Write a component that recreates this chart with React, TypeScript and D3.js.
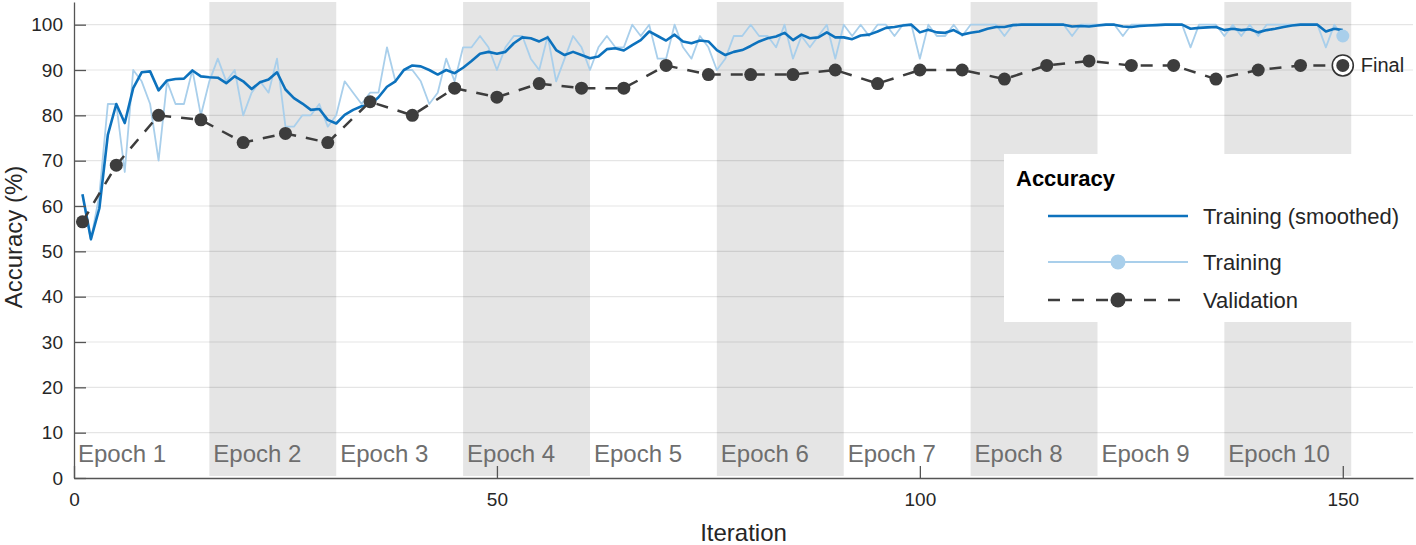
import React, { useEffect, useRef } from 'react';
import * as d3 from 'd3';

// training accuracy per iteration (1..150)
const trainingRaw = [
  62.5, 52.5, 62.5, 82.5, 82.5, 67.5, 90, 87.5, 82.5, 70,
  87.5, 82.5, 82.5, 90, 80, 87.5, 92.5, 87.5, 90, 80,
  85, 87.5, 85, 92.5, 77.5, 77.5, 80, 80, 82.5, 77.5,
  80, 87.5, 85, 82.5, 85, 85, 95, 87.5, 90, 90,
  87.5, 82.5, 85, 92.5, 87.5, 95, 95, 97.5, 95, 90,
  95, 97.5, 97.5, 92.5, 90, 97.5, 87.5, 92.5, 97.5, 95,
  90, 95, 97.5, 95, 95, 100, 97.5, 100, 92.5, 92.5,
  100, 95, 92.5, 97.5, 95, 90, 92.5, 97.5, 97.5, 100,
  97.5, 97.5, 95, 100, 92.5, 97.5, 95, 97.5, 100, 92.5,
  100, 97.5, 100, 97.5, 100, 100, 97.5, 100, 100, 92.5,
  100, 97.5, 97.5, 100, 97.5, 100, 100, 100, 100, 97.5,
  100, 100, 100, 100, 100, 100, 100, 97.5, 100, 100,
  100, 100, 100, 97.5, 100, 100, 100, 100, 100, 100,
  100, 95, 100, 100, 100, 97.5, 100, 97.5, 100, 97.5,
  100, 100, 100, 100, 100, 100, 100, 95, 100, 97.5,
];

const trainingSmoothed = [
  62.6, 52.7, 59.5, 75.7, 82.5, 78.3, 86.0, 89.5, 89.7, 85.5,
  87.7, 88.0, 88.1, 89.9, 88.6, 88.4, 88.3, 87.1, 88.6, 87.5,
  85.8, 87.3, 87.9, 89.5, 85.7, 83.8, 82.6, 81.2, 81.4, 79.0,
  78.2, 80.1, 81.2, 82.0, 82.3, 84.0, 86.3, 87.5, 90.0, 91.0,
  90.8, 90.0, 89.0, 90.0, 89.3, 90.5, 92.0, 93.6, 94.0, 93.6,
  94.0, 95.9, 97.2, 97.0, 96.3, 97.2, 94.4, 93.3, 94.0, 93.3,
  92.6, 93.0, 94.6, 94.8, 94.3, 95.5, 96.6, 98.5, 97.5, 96.5,
  97.8, 96.3, 95.9, 96.5, 96.3, 94.4, 93.3, 94.0, 94.4, 95.3,
  96.3, 97.0, 97.4, 98.2, 96.6, 97.8, 97.0, 97.2, 98.3, 97.2,
  97.2, 96.8, 97.6, 97.8, 98.5, 99.3, 99.5, 99.8, 100, 98.3,
  98.9, 98.3, 98.2, 98.8, 97.8, 98.2, 98.5, 99.1, 99.5, 99.5,
  99.9, 100, 100, 100, 100, 100, 100, 99.6, 99.7, 99.6,
  99.8, 100, 100, 99.6, 99.5, 99.7, 99.8, 99.9, 100, 100,
  100, 99.1, 99.3, 99.4, 99.5, 98.8, 99.1, 98.8, 99.0, 98.3,
  98.8, 99.1, 99.5, 99.8, 100, 100, 100, 98.5, 99.1, 98.8,
];

const validationIters = [1, 5, 10, 15, 20, 25, 30, 35, 40, 45, 50, 55, 60, 65, 70, 75, 80, 85, 90, 95, 100, 105, 110, 115, 120, 125, 130, 135, 140, 145, 150];
const validationAcc = [56.5, 69, 80, 79, 74, 76, 74, 83, 80, 86, 84, 87, 86, 86, 91, 89, 89, 89, 90, 87, 90, 90, 88, 91, 92, 91, 91, 88, 90, 91, 91];

const epochLabels = ['Epoch 1', 'Epoch 2', 'Epoch 3', 'Epoch 4', 'Epoch 5', 'Epoch 6', 'Epoch 7', 'Epoch 8', 'Epoch 9', 'Epoch 10'];
const epochStarts = [0, 16, 31, 46, 61, 76, 91, 106, 121, 136];
const epochEnds = [16, 31, 46, 61, 76, 91, 106, 121, 136, 151];

const xTicks = [0, 50, 100, 150];
const yTicks = [0, 10, 20, 30, 40, 50, 60, 70, 80, 90, 100];
const legendLabels = ['Training (smoothed)', 'Training', 'Validation'];

const FONT = '"Liberation Sans", Arial, Helvetica, sans-serif';
const BLUE = '#0d72bd';
const LIGHT = '#a9cfeb';
const DARK = '#3d3d3d';

const App = () => {
  const svgRef = useRef<SVGSVGElement>(null);

  useEffect(() => {
    const width = 1416;
    const height = 545;
    const margin = { top: 2, right: 3, bottom: 67, left: 74 };

    const svg = d3.select(svgRef.current);
    svg.selectAll('*').remove();
    svg.style('font-family', FONT);

    const x = d3.scaleLinear().domain([0, 158.3]).range([margin.left, width - margin.right]);
    const y = d3.scaleLinear().domain([0, 105]).range([height - margin.bottom, margin.top]);

    // epoch shading (every other epoch)
    svg.append('g')
      .selectAll('rect')
      .data(epochLabels.map((l, i) => i).filter(i => i % 2 === 1))
      .join('rect')
      .attr('x', i => x(epochStarts[i]))
      .attr('y', y(105))
      .attr('width', i => x(epochEnds[i]) - x(epochStarts[i]))
      .attr('height', y(0) - 2 - y(105))
      .attr('fill', '#e5e5e5');

    // horizontal grid
    svg.append('g')
      .selectAll('line')
      .data(yTicks.filter(t => t > 0))
      .join('line')
      .attr('x1', x.range()[0])
      .attr('x2', x.range()[1])
      .attr('y1', d => y(d))
      .attr('y2', d => y(d))
      .attr('stroke', 'rgba(0,0,0,0.1)')
      .attr('stroke-width', 1.2);

    // epoch labels
    svg.append('g')
      .selectAll('text')
      .data(epochLabels)
      .join('text')
      .attr('x', (d, i) => x(epochStarts[i]) + 4)
      .attr('y', y(0) - 16)
      .attr('font-size', 24)
      .attr('fill', '#6e6e6e')
      .text(d => d);

    const line = d3.line<number>()
      .x((d, i) => x(i + 1))
      .y(d => y(d));

    svg.append('path')
      .attr('d', line(trainingRaw))
      .attr('fill', 'none')
      .attr('stroke', LIGHT)
      .attr('stroke-width', 1.8)
      .attr('stroke-linejoin', 'round');

    svg.append('path')
      .attr('d', line(trainingSmoothed))
      .attr('fill', 'none')
      .attr('stroke', BLUE)
      .attr('stroke-width', 2.6)
      .attr('stroke-linejoin', 'round');

    // validation
    const valLine = d3.line<number>()
      .x((d, i) => x(validationIters[i]))
      .y(d => y(d));

    svg.append('path')
      .attr('d', valLine(validationAcc))
      .attr('fill', 'none')
      .attr('stroke', DARK)
      .attr('stroke-width', 2.5)
      .attr('stroke-dasharray', '12,10');

    svg.append('g')
      .selectAll('circle')
      .data(validationAcc)
      .join('circle')
      .attr('cx', (d, i) => x(validationIters[i]))
      .attr('cy', d => y(d))
      .attr('r', 6.5)
      .attr('fill', DARK);

    // final points
    const last = validationAcc.length - 1;
    const fx = x(validationIters[last]);
    const fy = y(validationAcc[last]);
    svg.append('circle')
      .attr('cx', x(trainingRaw.length))
      .attr('cy', y(trainingRaw[trainingRaw.length - 1]))
      .attr('r', 6.5)
      .attr('fill', LIGHT);
    svg.append('circle')
      .attr('cx', fx).attr('cy', fy).attr('r', 10.5)
      .attr('fill', '#fff').attr('stroke', '#333').attr('stroke-width', 1.6);
    svg.append('circle')
      .attr('cx', fx).attr('cy', fy).attr('r', 6.5)
      .attr('fill', DARK);
    svg.append('text')
      .attr('x', fx + 18)
      .attr('y', fy + 7)
      .attr('font-size', 20)
      .attr('fill', '#262626')
      .text('Final');

    // legend
    const lg = svg.append('g');
    lg.append('rect')
      .attr('x', 1004).attr('y', 154).attr('width', 409).attr('height', 168)
      .attr('fill', '#fff');
    lg.append('text')
      .attr('x', 1016).attr('y', 186)
      .attr('font-size', 22).attr('font-weight', 'bold').attr('fill', '#000')
      .text('Accuracy');
    const rowY = [216, 262, 300];
    const styles = [
      { stroke: BLUE, w: 2.6, dash: null, marker: null },
      { stroke: LIGHT, w: 2.2, dash: null, marker: LIGHT },
      { stroke: DARK, w: 2.5, dash: '12,12', marker: DARK },
    ];
    legendLabels.forEach((label, i) => {
      const s = styles[i];
      lg.append('line')
        .attr('x1', 1048).attr('x2', 1188)
        .attr('y1', rowY[i]).attr('y2', rowY[i])
        .attr('stroke', s.stroke).attr('stroke-width', s.w)
        .attr('stroke-dasharray', s.dash);
      if (s.marker) {
        lg.append('circle')
          .attr('cx', 1118).attr('cy', rowY[i]).attr('r', 7.5)
          .attr('fill', s.marker);
      }
      lg.append('text')
        .attr('x', 1203).attr('y', rowY[i] + 8)
        .attr('font-size', 22).attr('fill', '#262626')
        .text(label);
    });

    // axes
    const axisColor = '#555';
    const yAxis = svg.append('g')
      .attr('transform', `translate(${x.range()[0]},0)`)
      .call(d3.axisLeft(y).tickValues(yTicks).tickSizeInner(-12).tickSizeOuter(0).tickPadding(11));
    const xAxis = svg.append('g')
      .attr('transform', `translate(0,${y.range()[0]})`)
      .call(d3.axisBottom(x).tickValues(xTicks).tickSizeInner(-12).tickSizeOuter(0).tickPadding(15));

    [yAxis, xAxis].forEach(a => {
      a.select('.domain').attr('stroke', axisColor).attr('stroke-width', 1.3);
      a.selectAll('.tick line').attr('stroke', axisColor).attr('stroke-width', 1.3);
      a.selectAll('.tick text')
        .attr('font-size', 19)
        .attr('font-family', FONT)
        .attr('fill', '#262626');
    });

    svg.append('text')
      .attr('x', (x.range()[0] + x.range()[1]) / 2)
      .attr('y', 541)
      .attr('text-anchor', 'middle')
      .attr('font-size', 24)
      .attr('fill', '#262626')
      .text('Iteration');

    svg.append('text')
      .attr('transform', `translate(22,${(y.range()[0] + y.range()[1]) / 2 - 3}) rotate(-90)`)
      .attr('text-anchor', 'middle')
      .attr('font-size', 24)
      .attr('fill', '#262626')
      .text('Accuracy (%)');
  }, []);

  return (
    <svg
      ref={svgRef}
      width={1416}
      height={545}
      style={{ position: 'absolute', left: 0, top: 0, background: '#fff' }}
    />
  );
};

export default App;
